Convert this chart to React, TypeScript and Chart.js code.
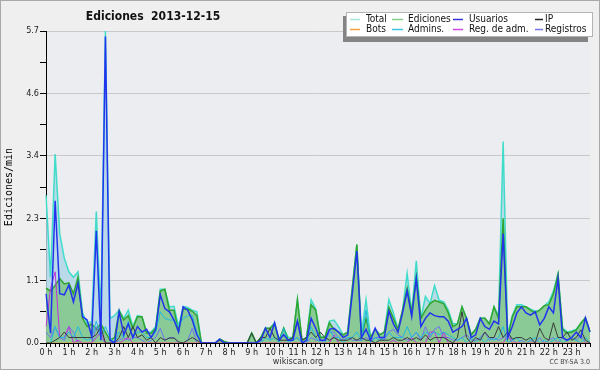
import React, { useEffect, useRef } from "react";
import { Chart, registerables } from "chart.js";

Chart.register(...registerables);

// ---------- data ----------
const HOUR_LABELS = [
  "0 h", "1 h", "2 h", "3 h", "4 h", "5 h", "6 h", "7 h", "8 h", "9 h", "10 h", "11 h",
  "12 h", "13 h", "14 h", "15 h", "16 h", "17 h", "18 h", "19 h", "20 h", "21 h", "22 h", "23 h",
];
const SLOTS_PER_HOUR = 5; // one value every 12 minutes

const Y_TICKS = [0, 0.57, 1.14, 1.71, 2.28, 2.85, 3.42, 3.99, 4.56, 5.13, 5.7];
const Y_LABELS = ["0.0", "", "1.1", "", "2.3", "", "3.4", "", "4.6", "", "5.7"];

const TOTAL = [
  2.7, 1.2, 3.45, 2.0, 1.55,
  1.3, 1.2, 1.3, 0.55, 0.35,
  0.4, 2.4, 0.5, 5.7, 0.45,
  0.5, 0.6, 0.45, 0.6, 0.3,
  0.5, 0.48, 0.2, 0.2, 0.3,
  0.98, 0.98, 0.66, 0.67, 0.3,
  0.67, 0.65, 0.6, 0.57, 0,
  0, 0, 0, 0.07, 0.03,
  0, 0, 0, 0, 0,
  0.18, 0, 0.1, 0.27, 0.27,
  0.37, 0.05, 0.27, 0.1, 0.1,
  0.79, 0.05, 0.1, 0.79, 0.62,
  0.12, 0.1, 0.4, 0.42, 0.3,
  0.15, 0.2, 1.0, 1.8, 0.15,
  0.79, 0.1, 0.25, 0.15, 0.2,
  0.79, 0.55, 0.25, 0.6, 1.27,
  0.55, 1.5, 0.45, 0.85, 0.72,
  1.05, 0.78, 0.75, 0.6, 0.35,
  0.35, 0.66, 0.45, 0.15, 0.25,
  0.45, 0.45, 0.35, 0.66, 0.5,
  3.68, 0.15, 0.5, 0.7, 0.7,
  0.66, 0.62, 0.58, 0.6, 0.68,
  0.75, 0.95, 1.26, 0.28, 0.2,
  0.22, 0.25, 0.36, 0.46, 0.2,
];

const EDICIONES = [
  1.0, 0.95, 1.05, 1.18, 1.08,
  1.1, 0.9, 1.2, 0.45, 0.3,
  0.35, 0.25, 0.35, 0.2, 0.05,
  0.1, 0.59, 0.42, 0.5, 0.27,
  0.48, 0.48, 0.18, 0.18, 0.27,
  0.95, 0.98, 0.6, 0.6, 0.22,
  0.62, 0.62, 0.58, 0.5, 0,
  0, 0, 0, 0.07, 0.03,
  0, 0, 0, 0, 0,
  0.18, 0, 0.1, 0.27, 0.27,
  0.35, 0.05, 0.27, 0.05, 0.1,
  0.79, 0.05, 0.1, 0.7, 0.6,
  0.1, 0.1, 0.37, 0.25, 0.2,
  0.15, 0.2, 1.0, 1.8, 0.1,
  0.45, 0.1, 0.25, 0.15, 0.2,
  0.65, 0.45, 0.25, 0.6, 1.0,
  0.55, 1.2, 0.45, 0.6, 0.72,
  0.78, 0.75, 0.72, 0.55, 0.3,
  0.35, 0.66, 0.45, 0.15, 0.25,
  0.45, 0.45, 0.35, 0.66, 0.45,
  2.28, 0.1, 0.48, 0.66, 0.66,
  0.66, 0.6, 0.55, 0.6, 0.68,
  0.7, 0.9, 1.26, 0.25, 0.18,
  0.2, 0.24, 0.36, 0.46, 0.2,
];

const USUARIOS = [
  0.9, 0.18, 2.6, 0.9, 0.88,
  1.06, 0.75, 1.09, 0.48, 0.42,
  0.12, 2.05, 0.05, 5.6, 0.05,
  0.0, 0.57, 0.15, 0.35, 0.1,
  0.3, 0.2, 0.25, 0.1, 0.25,
  0.88, 0.63, 0.57, 0.42, 0.2,
  0.66, 0.6, 0.42, 0.15, 0,
  0, 0, 0, 0.07, 0,
  0, 0, 0, 0, 0,
  0, 0, 0.05, 0.27, 0.1,
  0.37, 0.05, 0.15, 0.05, 0.05,
  0.4, 0, 0.05, 0.45, 0.27,
  0.05, 0.05, 0.25, 0.27, 0.2,
  0.1, 0.15, 0.9, 1.68, 0.1,
  0.25, 0.05, 0.27, 0.1, 0.1,
  0.58, 0.35, 0.2, 0.55, 0.95,
  0.48, 1.18, 0.3, 0.45, 0.55,
  0.5, 0.48, 0.48, 0.4, 0.2,
  0.25, 0.3, 0.45, 0.1, 0.15,
  0.45, 0.3, 0.25, 0.4, 0.35,
  2.0, 0.1, 0.3, 0.55, 0.66,
  0.55, 0.51, 0.57, 0.33, 0.45,
  0.66, 0.55, 1.18, 0.1, 0.05,
  0.1, 0.2, 0.1, 0.46, 0.2,
];

const IP = [
  0, 0, 0.05, 0.1, 0.2,
  0.1, 0.1, 0.1, 0.1, 0.1,
  0.1, 0.15, 0.3, 0, 0,
  0, 0.1, 0.3, 0.1, 0.3,
  0.1, 0.15, 0.05, 0.1, 0,
  0.1, 0.05, 0.09, 0.09, 0.02,
  0, 0.05, 0.1, 0.05, 0,
  0, 0, 0, 0.05, 0,
  0, 0, 0, 0, 0,
  0.18, 0, 0.1, 0.1, 0.27,
  0.1, 0.05, 0.05, 0.05, 0.1,
  0.4, 0.05, 0.1, 0.2, 0.1,
  0.2, 0.1, 0.05, 0.1, 0.05,
  0.05, 0.05, 0.1, 0.05, 0.1,
  0.05, 0.05, 0, 0.05, 0.05,
  0.05, 0.1, 0.05, 0.05, 0.1,
  0.05, 0.1, 0.05, 0.15, 0.05,
  0.1, 0.1, 0.1, 0.05, 0,
  0.1, 0.57, 0.1, 0, 0.1,
  0.05, 0.2, 0.1, 0.1, 0.3,
  0.1, 0.2, 0.07, 0.1, 0.1,
  0.05, 0.1, 0, 0.27, 0.1,
  0.05, 0.37, 0.1, 0.1, 0.2,
  0.05, 0.1, 0.24, 0.05, 0,
];

const BOTS = [
  0, 0, 0, 0, 0, 0, 0, 0, 0, 0, 0, 0, 0, 0, 0, 0, 0, 0, 0, 0,
  0, 0, 0, 0, 0, 0, 0, 0, 0, 0, 0, 0, 0, 0, 0, 0, 0, 0, 0, 0,
  0, 0, 0, 0, 0, 0, 0, 0, 0, 0, 0, 0, 0, 0, 0, 0, 0, 0, 0, 0,
  0, 0, 0, 0, 0, 0, 0, 0, 0, 0, 0, 0, 0, 0, 0, 0, 0, 0, 0, 0,
  0, 0, 0, 0, 0, 0, 0, 0, 0, 0, 0, 0, 0, 0, 0, 0, 0, 0, 0, 0,
  0, 0, 0, 0, 0, 0, 0, 0, 0, 0, 0, 0, 0, 0, 0, 0, 0, 0, 0, 0,
];

const ADMINS = [
  0, 0, 0.3, 0.1, 0.1,
  0.2, 0.1, 0.3, 0.1, 0.05,
  0.1, 0.4, 0.1, 0.3, 0.1,
  0, 0.2, 0.1, 0.4, 0.1,
  0.2, 0.2, 0.1, 0.1, 0.2,
  0.57, 0.45, 0.42, 0.42, 0.3,
  0.45, 0.5, 0.5, 0.2, 0,
  0, 0, 0, 0, 0,
  0, 0, 0, 0, 0,
  0, 0, 0, 0.1, 0.05,
  0.1, 0, 0.27, 0, 0.05,
  0.1, 0, 0, 0.3, 0.1,
  0, 0, 0.25, 0.1, 0.1,
  0, 0.1, 0.1, 0.2, 0.05,
  0.6, 0, 0.1, 0.05, 0.1,
  0.2, 0.1, 0.1, 0.1, 0.3,
  0.1, 0.2, 0.1, 0.2, 0.15,
  0.2, 0.15, 0.2, 0.15, 0.1,
  0.05, 0.1, 0, 0.1, 0,
  0.1, 0, 0.1, 0.05, 0.1,
  0.3, 0, 0.05, 0.1, 0,
  0, 0.05, 0.1, 0, 0.05,
  0, 0.05, 0.1, 0, 0.05,
  0.1, 0.05, 0, 0.1, 0,
];

const REG_ADM = [
  0.3, 1.0, 1.3, 0.1, 0.1,
  0.3, 0, 0.05, 0, 0,
  0, 0.1, 0.2, 0, 0,
  0, 0, 0.05, 0.1, 0,
  0, 0, 0, 0, 0,
  0, 0, 0, 0, 0,
  0, 0, 0, 0, 0,
  0, 0, 0, 0, 0,
  0, 0, 0, 0, 0,
  0, 0, 0, 0, 0,
  0, 0, 0, 0, 0,
  0, 0, 0, 0, 0,
  0, 0, 0, 0.15, 0,
  0, 0, 0, 0, 0,
  0, 0, 0, 0, 0,
  0, 0.05, 0, 0, 0,
  0.1, 0, 0, 0, 0.2,
  0.2, 0, 0.2, 0, 0,
  0, 0, 0, 0, 0,
  0, 0, 0, 0, 0,
  0, 0.15, 0, 0, 0,
  0, 0, 0, 0, 0,
  0, 0, 0, 0, 0,
  0, 0, 0, 0, 0,
];

const REGISTROS = [
  0.2, 0.1, 0.3, 0.1, 0.05,
  0.3, 0.2, 0, 0, 0,
  0, 0.3, 0.1, 0, 0,
  0, 0.05, 0.1, 0.05, 0.1,
  0.1, 0.05, 0, 0.05, 0.1,
  0.27, 0.05, 0.1, 0.1, 0,
  0, 0.05, 0.27, 0, 0,
  0, 0, 0, 0, 0,
  0, 0, 0, 0, 0,
  0, 0, 0, 0, 0,
  0, 0, 0, 0, 0.05,
  0.1, 0, 0, 0.1, 0.05,
  0.05, 0, 0.2, 0.2, 0.1,
  0.05, 0.1, 0.05, 0.05, 0.05,
  0.1, 0.05, 0.1, 0.1, 0.05,
  0.2, 0.25, 0.15, 0.1, 0.05,
  0.1, 0.2, 0.05, 0.3, 0.1,
  0.25, 0.3, 0.1, 0.1, 0.05,
  0.05, 0.1, 0.15, 0.05, 0.05,
  0.1, 0.2, 0.05, 0.1, 0.05,
  0.1, 0.2, 0.05, 0, 0.05,
  0, 0.05, 0, 0.1, 0,
  0.05, 0.1, 0, 0.1, 0.05,
  0.1, 0.05, 0.15, 0, 0,
];

const LEGEND_ROWS = [
  [
    { label: "Total", color: "#a6e4dc" },
    { label: "Ediciones", color: "#86cf86" },
    { label: "Usuarios", color: "#3434dc" },
    { label: "IP", color: "#222222" },
  ],
  [
    { label: "Bots", color: "#f2a040" },
    { label: "Admins.", color: "#40c6dc" },
    { label: "Reg. de adm.", color: "#cf48e6" },
    { label: "Registros", color: "#7474e0" },
  ],
];

const TITLE = "Ediciones  2013-12-15";
const Y_TITLE = "Ediciones/min";
const FOOTER = "wikiscan.org";
const LICENSE = "CC BY-SA 3.0";

const FONT = '"DejaVu Sans Condensed", "DejaVu Sans", sans-serif';

const decorPlugin = {
  id: "decor",
  beforeDraw(chart: any) {
    const { ctx, chartArea: a, width, height } = chart;
    ctx.save();
    ctx.fillStyle = "#efeff0";
    ctx.fillRect(0, 0, width, height);
    ctx.fillStyle = "#ecedf0";
    ctx.fillRect(a.left, a.top, a.right - a.left, a.bottom - a.top);
    ctx.restore();
  },
  afterDraw(chart: any) {
    const { ctx, width, height } = chart;
    ctx.save();
    // frame
    ctx.strokeStyle = "#a8a8a8";
    ctx.lineWidth = 1;
    ctx.strokeRect(0.5, 0.5, width - 1, height - 1);

    // title
    ctx.fillStyle = "#111";
    ctx.font = `bold 12px ${FONT}`;
    ctx.textAlign = "center";
    ctx.textBaseline = "middle";
    ctx.fillText(TITLE, 153, 17);

    // legend
    const bx = 346, by = 12, bw = 247, bh = 25;
    ctx.fillStyle = "#848484";
    ctx.fillRect(bx - 3, by + 4, bw - 2, bh + 1);
    ctx.fillStyle = "#ffffff";
    ctx.fillRect(bx, by, bw, bh);
    ctx.strokeStyle = "#b4b4b4";
    ctx.strokeRect(bx + 0.5, by + 0.5, bw - 1, bh - 1);
    const colSwatch = [350, 392, 453, 535];
    const colText = [366, 408, 469, 545];
    const swLen = [10, 11, 10, 8];
    const rowY = [19.5, 29.5];
    ctx.font = `10px ${FONT}`;
    ctx.textAlign = "left";
    LEGEND_ROWS.forEach((row, r) => {
      row.forEach((item, c) => {
        ctx.strokeStyle = item.color;
        ctx.lineWidth = 1.5;
        ctx.beginPath();
        ctx.moveTo(colSwatch[c], rowY[r]);
        ctx.lineTo(colSwatch[c] + swLen[c], rowY[r]);
        ctx.stroke();
        ctx.fillStyle = "#111";
        ctx.fillText(item.label, colText[c], rowY[r]);
      });
    });

    // footer
    ctx.fillStyle = "#333";
    ctx.font = `9px ${FONT}`;
    ctx.textAlign = "center";
    ctx.fillText(FOOTER, 298, 362);
    ctx.fillStyle = "#444";
    ctx.font = `7px ${FONT}`;
    ctx.textAlign = "right";
    ctx.fillText(LICENSE, 590, 362);
    ctx.restore();
  },
};

export default function App() {
  const ref = useRef<HTMLCanvasElement | null>(null);

  useEffect(() => {
    if (!ref.current) return;
    const labels: string[] = [];
    HOUR_LABELS.forEach((h) => {
      for (let k = 0; k < SLOTS_PER_HOUR; k++) labels.push(k === 0 ? h : "");
    });

    const line = (label: string, data: number[], color: string, width: number, order: number) => ({
      label,
      data,
      borderColor: color,
      borderWidth: width,
      backgroundColor: color,
      fill: false,
      pointRadius: 0,
      tension: 0,
      order,
    });

    const chart = new Chart(ref.current, {
      type: "line",
      data: {
        labels,
        datasets: [
          {
            label: "Total",
            data: TOTAL,
            borderColor: "#3fdcca",
            borderWidth: 1.5,
            backgroundColor: "rgba(178,214,232,0.85)",
            fill: "origin",
            pointRadius: 0,
            tension: 0,
            order: 10,
          },
          {
            label: "Ediciones",
            data: EDICIONES,
            borderColor: "#2fa52f",
            borderWidth: 1.5,
            backgroundColor: "rgba(120,196,122,0.75)",
            fill: "origin",
            pointRadius: 0,
            tension: 0,
            order: 9,
          },
          line("Registros", REGISTROS, "#7070f4", 1, 8),
          line("Reg. de adm.", REG_ADM, "#c030dc", 1, 7),
          line("Admins.", ADMINS, "#22b8e0", 1, 6),
          line("Bots", BOTS, "#f2a040", 1, 5),
          line("IP", IP, "#3a3a3a", 1, 4),
          line("Usuarios", USUARIOS, "#2233ee", 1.5, 1),
        ],
      },
      options: {
        animation: false,
        responsive: false,
        devicePixelRatio: 1,
        layout: { padding: { left: 0, right: 10, top: 31, bottom: 0 } },
        plugins: {
          legend: { display: false },
          tooltip: { enabled: false },
          title: { display: false },
        },
        scales: {
          x: {
            type: "category",
            offset: false,
            grid: {
              display: true,
              drawOnChartArea: false,
              drawTicks: true,
              tickLength: 4,
              tickColor: "#000",
              tickWidth: 1,
            },
            border: { display: true, color: "#000", width: 1 },
            ticks: {
              autoSkip: false,
              maxRotation: 0,
              minRotation: 0,
              padding: 0,
              color: "#222",
              font: { family: FONT, size: 9 },
              callback: (_v: any, i: number) => labels[i],
            },
            afterFit: (s: any) => {
              s.height = 27;
            },
          },
          y: {
            type: "linear",
            min: 0,
            max: 5.7,
            afterBuildTicks: (s: any) => {
              s.ticks = Y_TICKS.map((v) => ({ value: v }));
            },
            grid: {
              drawOnChartArea: true,
              drawTicks: true,
              tickLength: 6,
              tickColor: "#000",
              color: (c: any) => (c.index % 2 === 0 ? "#c9c9cc" : "rgba(0,0,0,0)"),
            },
            border: { display: true, color: "#000", width: 1 },
            ticks: {
              padding: 1,
              color: "#222",
              font: { family: FONT, size: 9 },
              callback: (_v: any, i: number) => Y_LABELS[i],
            },
            title: {
              display: true,
              text: Y_TITLE,
              color: "#000",
              font: { family: '"DejaVu Sans Mono", monospace', size: 10 },
              padding: { top: 3, bottom: 0 },
            },
            afterFit: (s: any) => {
              s.width = 46;
            },
          },
        },
      },
      plugins: [decorPlugin],
    } as any);

    return () => chart.destroy();
  }, []);

  return (
    <div style={{ position: "fixed", left: 0, top: 0, width: 600, height: 370 }}>
      <canvas ref={ref} width={600} height={370} style={{ display: "block" }} />
    </div>
  );
}
